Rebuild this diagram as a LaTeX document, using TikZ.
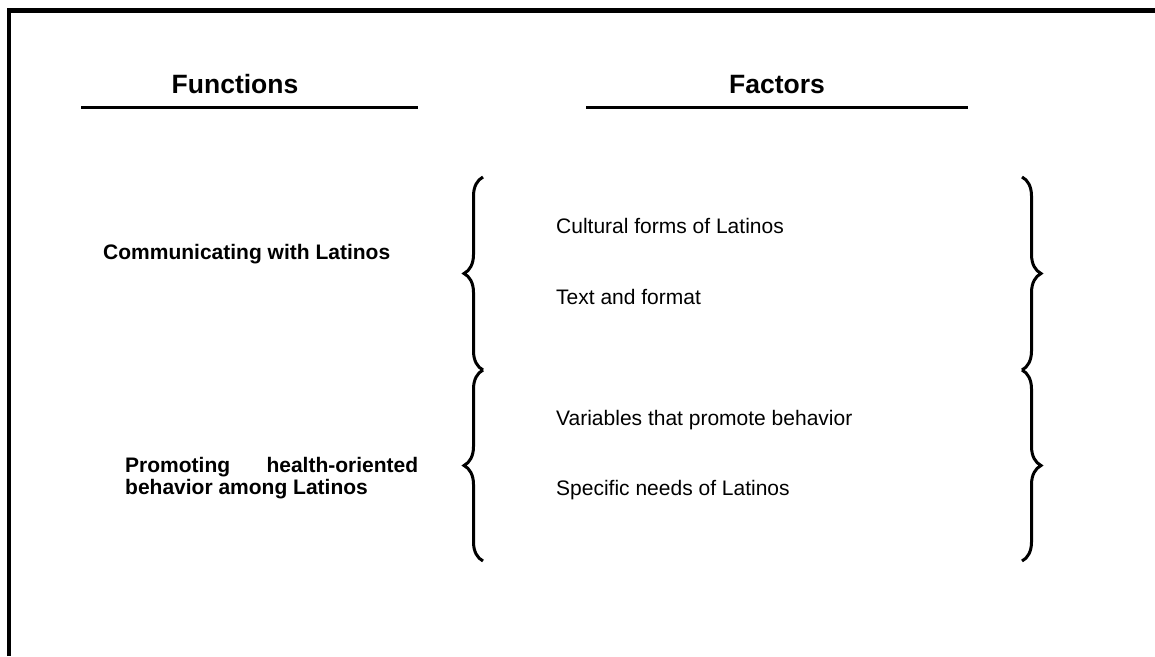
\documentclass[tikz,border=0pt]{standalone}
\usepackage{fontspec}
\setmainfont{Liberation Sans}
\usetikzlibrary{decorations.pathreplacing}

\tikzset{
  titulo/.style  = {font=\fontsize{26.5}{30}\selectfont\bfseries, anchor=base, inner sep=0pt},
  funcion/.style = {font=\fontsize{21}{22}\selectfont\bfseries, anchor=base west,
                    align=left, inner sep=0pt},
  factor/.style  = {font=\fontsize{21}{24}\selectfont, anchor=base west, inner sep=0pt},
  llave/.style   = {decorate, decoration={brace, amplitude=19pt}, line width=3pt},
  raya/.style    = {line width=3pt},
  marco/.style   = {line width=4.5pt},
}

\begin{document}
\begin{tikzpicture}[x=1pt, y=-1pt]
  \useasboundingbox (0,0) rectangle (1155,656);
  % marco exterior (solo se ven los lados izquierdo y superior)
  \draw[marco] (9,656) -- (9,10.5) -- (1155,10.5);

  % encabezados
  \node[titulo] (fun) at (235,93) {Functions};
  \node[titulo] (fac) at (777,93) {Factors};
  \coordinate (funA) at (81,107);  \coordinate (funB) at (418,107);
  \coordinate (facA) at (586,107); \coordinate (facB) at (968,107);
  \draw[raya] (funA) -- (funB);
  \draw[raya] (facA) -- (facB);

  % funciones (base del nodo = ultima linea)
  \node[funcion] (com) at (103,259) {Communicating with Latinos};
  \node[funcion] (pro) at (125,494)
    {\makebox[293pt][s]{Promoting health-oriented}\\behavior among Latinos};

  % factores
  \node[factor] (cul) at (556,233) {Cultural forms of Latinos};
  \node[factor] (tex) at (556,304) {Text and format};
  \node[factor] (var) at (556,425) {Variables that promote behavior};
  \node[factor] (esp) at (556,495) {Specific needs of Latinos};

  % llaves
  \coordinate (l1a) at (483,177);  \coordinate (l1b) at (483,370);
  \coordinate (l2a) at (483,370);  \coordinate (l2b) at (483,561);
  \coordinate (r1a) at (1022,177); \coordinate (r1b) at (1022,370);
  \coordinate (r2a) at (1022,370); \coordinate (r2b) at (1022,561);
  \draw[llave] (l1b) -- (l1a);
  \draw[llave] (l2b) -- (l2a);
  \draw[llave] (r1a) -- (r1b);
  \draw[llave] (r2a) -- (r2b);
\end{tikzpicture}
\end{document}
